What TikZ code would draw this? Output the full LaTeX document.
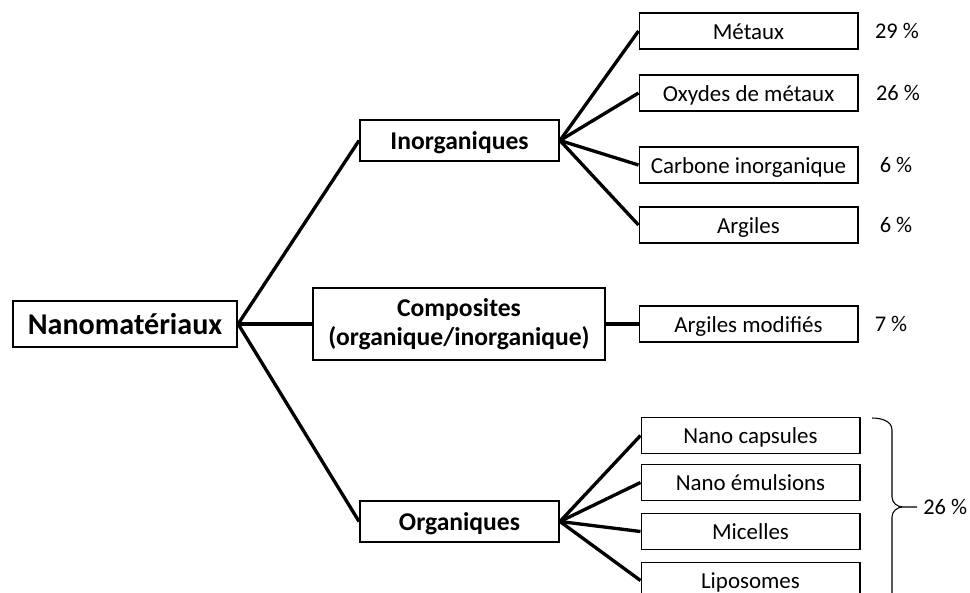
\documentclass[tikz,border=0pt]{standalone}
\usepackage{fontspec}
\setmainfont{Carlito}
\usetikzlibrary{arrows.meta}

\begin{document}
\begin{tikzpicture}[x=0.75pt, y=-0.75pt,
every edge/.style = {draw, line width=2.5pt, black},
      root/.style = {draw, line width=1.7pt, inner sep=0pt, minimum width=168pt,
                     minimum height=34.5pt, text height=16pt, text depth=0pt,
                     font=\fontsize{22.6}{26}\selectfont\bfseries},
       mid/.style = {draw, line width=1.7pt, inner sep=0pt, minimum width=149pt,
                     minimum height=31pt, align=center, text height=13.5pt, text depth=0pt,
                     font=\fontsize{19.2}{21.5}\selectfont\bfseries},
      leaf/.style = {draw, line width=1pt, inner sep=0pt, minimum width=164pt,
                     minimum height=27pt, text height=12.3pt, text depth=0pt,
                     font=\fontsize{17.2}{20}\selectfont},
       pct/.style = {inner sep=0pt, font=\fontsize{16.8}{20}\selectfont}
                    ]
\useasboundingbox (0,0) rectangle (970,592);
\clip (0,0) rectangle (970,592);

% first level
\node (nano) [root] at (125,324) {Nanomatériaux};
\node (inorg) [mid] at (459.5,140.5) {Inorganiques};
\node (comp) [mid, minimum width=219pt, minimum height=54pt, text height=, text depth=]
      at (459,324) {Composites\\(organique/inorganique)};
\node (org) [mid] at (459.5,521.5) {Organiques};

% inorganiques
\node (met) [leaf] at (748.5,31) {Métaux};
\node (oxy) [leaf] at (748.5,93) {Oxydes de métaux};
\node (carb) [leaf] at (748.5,165) {Carbone inorganique};
\node (arg) [leaf] at (748.5,225) {Argiles};
% composites
\node (argmod) [leaf] at (748.5,324) {Argiles modifiés};
% organiques
\node (caps) [leaf] at (750.5,435.5) {Nano capsules};
\node (emul) [leaf] at (750.5,482.5) {Nano émulsions};
\node (mic) [leaf] at (750.5,531.5) {Micelles};
\node (lipo) [leaf] at (750.5,580.5) {Liposomes};

% percentages
\node (p1) [pct] at (897,31) {29 \%};
\node (p2) [pct] at (898,93) {26 \%};
\node (p3) [pct] at (896,165) {6 \%};
\node (p4) [pct] at (896,225) {6 \%};
\node (p5) [pct] at (891,324) {7 \%};
\node (p6) [pct, anchor=west] at (923,507) {26 \%};

\draw   (nano.east) edge (inorg.west)
        (nano.east) edge (comp.west)
        (nano.east) edge (org.west)
        (inorg.east) edge (met.west)
        (inorg.east) edge (oxy.west)
        (inorg.east) edge (carb.west)
        (inorg.east) edge (arg.west)
        (comp.east) edge (argmod.west)
        (org.east) edge (caps.west)
        (org.east) edge (emul.west)
        (org.east) edge (mic.west)
        (org.east) edge (lipo.west);

% brace
\coordinate (tip) at (917,507);
\draw[line width=0.8pt] (872,418) to[out=0,in=90] (892,430) -- (892,497)
      to[out=-90,in=180] (903,507) -- (tip)
      (903,507) to[out=180,in=90] (892,517) -- (892,600);
\end{tikzpicture}
\end{document}
